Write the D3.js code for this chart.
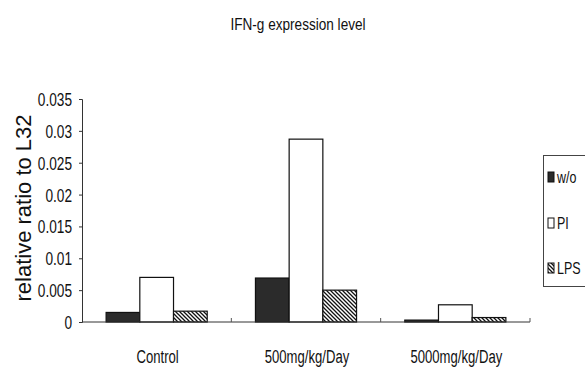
<!DOCTYPE html>
<html>
<head>
<meta charset="utf-8">
<script src="https://cdn.jsdelivr.net/npm/d3@7"></script>
<style>
  html, body { margin: 0; padding: 0; background: #fff; }
  svg { display: block; }
  text { font-family: "Liberation Sans", Arial, sans-serif; fill: #111; }
</style>
</head>
<body>
<script>
// IFN-g expression, relative to L32, per treatment group
const categories = ["Control", "500mg/kg/Day", "5000mg/kg/Day"];
const seriesNames = ["w/o", "PI", "LPS"];
const woValues  = [0.0015, 0.0069, 0.0003];
const piValues  = [0.0070, 0.0287, 0.0027];
const lpsValues = [0.0017, 0.0050, 0.0007];
const yTicks = [0, 0.005, 0.01, 0.015, 0.02, 0.025, 0.03, 0.035];
const yTickLabels = ["0", "0.005", "0.01", "0.015", "0.02", "0.025", "0.03", "0.035"];
const titleText = "IFN-g expression level";
const yTitleText = "relative ratio to L32";

const seriesValues = [woValues, piValues, lpsValues];

const W = 585, H = 372;
const svg = d3.select("body").append("svg").attr("width", W).attr("height", H);

// hatch pattern for the LPS series
const defs = svg.append("defs");
const pat = defs.append("pattern")
  .attr("id", "hatch").attr("patternUnits", "userSpaceOnUse")
  .attr("width", 4).attr("height", 4);
pat.append("rect").attr("width", 4).attr("height", 4).attr("fill", "#fff");
pat.append("path").attr("d", "M-1,-1 L5,5 M-1,3 L1,5 M3,-1 L5,1")
  .attr("stroke", "#111").attr("stroke-width", 1.3);

const fills = ["#2b2b2b", "#ffffff", "url(#hatch)"];

const x0 = d3.scaleBand().domain(categories).range([82, 530])
  .paddingInner(0.323).paddingOuter(0.1615);
const x1 = d3.scaleBand().domain(seriesNames).range([0, x0.bandwidth()]);
const y = d3.scaleLinear().domain([0, 0.035]).range([322, 99]);

// condensed horizontal text helper
function squish(sel, sx) {
  sel.each(function () {
    const t = d3.select(this);
    const tx = +t.attr("x") || 0, ty = +t.attr("y") || 0;
    t.attr("transform", `translate(${tx},${ty}) scale(${sx},1)`).attr("x", 0).attr("y", 0);
  });
}

// title
svg.append("text").attr("x", 298).attr("y", 30).attr("text-anchor", "middle")
  .attr("font-size", 17).text(titleText).call(squish, 0.8);

// y axis title
svg.append("text").attr("transform", "translate(31,208) rotate(-90)")
  .attr("text-anchor", "middle").attr("font-size", 22).attr("fill", "#333")
  .text(yTitleText);

// bars
const g = svg.append("g");
categories.forEach((c, ci) => {
  seriesNames.forEach((s, si) => {
    const v = seriesValues[si][ci];
    g.append("rect")
      .attr("x", x0(c) + x1(s)).attr("y", y(v))
      .attr("width", x1.bandwidth()).attr("height", y(0) - y(v))
      .attr("fill", fills[si]).attr("stroke", "#111").attr("stroke-width", 1.2);
  });
});

// y axis
const yAxis = d3.axisLeft(y).tickValues(yTicks)
  .tickFormat((d, i) => yTickLabels[i]).tickSize(3).tickPadding(7);
const ya = svg.append("g").attr("transform", "translate(82,0)").call(yAxis);
ya.select(".domain").attr("stroke", "#333");
ya.selectAll(".tick line").attr("stroke", "#333");
ya.selectAll(".tick text").attr("font-size", 18).attr("font-family", null)
  .attr("fill", "#111").attr("dy", "0.36em")
  .each(function () {
    d3.select(this).attr("transform", "scale(0.76,1)").attr("x", -10 / 0.76);
  });

// x axis line with boundary ticks
svg.append("line").attr("x1", 82).attr("x2", 530).attr("y1", y(0)).attr("y2", y(0))
  .attr("stroke", "#333");
categories.forEach((c, i) => {
  const bx = 82 + x0.step() * (i + 1);
  svg.append("line").attr("x1", bx).attr("x2", bx).attr("y1", y(0)).attr("y2", y(0) - 4)
    .attr("stroke", "#555");
});

// category labels
svg.selectAll(".cat").data(categories).enter().append("text")
  .attr("class", "cat")
  .attr("x", d => x0(d) + x0.bandwidth() / 2 + 1).attr("y", 363)
  .attr("text-anchor", "middle").attr("font-size", 19).text(d => d)
  .call(squish, 0.69);

// legend
const lg = svg.append("g");
lg.append("rect").attr("x", 543.5).attr("y", 155.5).attr("width", 80).attr("height", 131)
  .attr("fill", "#fff").attr("stroke", "#444");
const legY = [177, 223, 268];
seriesNames.forEach((s, i) => {
  lg.append("rect").attr("x", 548).attr("y", legY[i] - 5).attr("width", 6).attr("height", 10)
    .attr("fill", fills[i]).attr("stroke", "#111").attr("stroke-width", 1);
  lg.append("text").attr("x", 557).attr("y", legY[i] + 5.5).attr("font-size", 16)
    .text(s).call(squish, 0.78);
});
</script>
</body>
</html>
